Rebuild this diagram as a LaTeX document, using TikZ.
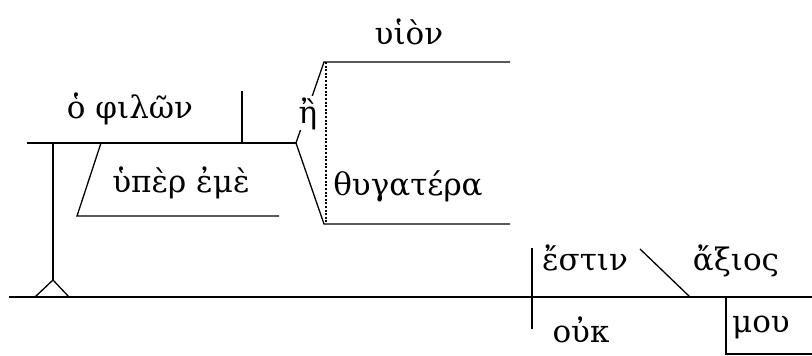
\documentclass[tikz,border=0pt]{standalone}
\usepackage{fontspec}
\setmainfont{DejaVu Serif}
\begin{document}
\begin{tikzpicture}[x=1pt,y=-1pt,
  ln/.style={line width=1.3pt},
  wd/.style={font=\fontsize{31}{35}\selectfont, inner sep=0pt, anchor=base}]
\useasboundingbox (0,0) rectangle (812,356);
% coordinates
\coordinate (b0) at (9,297);
\coordinate (b1) at (812,297);
\coordinate (tl) at (35,297);
\coordinate (tr) at (69,297);
\coordinate (ta) at (53,280);
\coordinate (st) at (53,143);
\coordinate (s0) at (27,143);
\coordinate (fk) at (296,143);
\coordinate (dv0) at (242,91);
\coordinate (dv1) at (242,143);
\coordinate (p0) at (101,143);
\coordinate (p1) at (77,216);
\coordinate (p2) at (279,216);
\coordinate (u0) at (324,62);
\coordinate (u1) at (510,62);
\coordinate (l0) at (324,224);
\coordinate (l1) at (510,224);
\coordinate (dt0) at (326,62);
\coordinate (dt1) at (326,224);
\coordinate (v0) at (532,248);
\coordinate (v1) at (532,329);
\coordinate (c0) at (640,249);
\coordinate (c1) at (690,297);
\coordinate (m0) at (726,297);
\coordinate (m1) at (726,354);
\coordinate (m2) at (812,354);
% lines
\draw[ln] (b0) -- (b1);
\draw[ln] (tl) -- (ta) -- (tr);
\draw[ln] (ta) -- (st);
\draw[ln] (s0) -- (fk);
\draw[ln] (dv0) -- (dv1);
\draw[ln] (p0) -- (p1) -- (p2);
\draw[ln] (fk) -- (u0) -- (u1);
\draw[ln] (fk) -- (l0) -- (l1);
\draw[line width=2.2pt, dash pattern=on 2pt off 1.6pt] (dt0) -- (dt1);
\draw[ln] (v0) -- (v1);
\draw[ln] (c0) -- (c1);
\draw[ln] (m0) -- (m1) -- (m2);
% words
\node[wd] (subj) at (130,118) {ὁ φιλῶν};
\node[wd] (prep) at (181,192) {ὑπὲρ ἐμὲ};
\node[wd, fill=white, inner sep=1pt] (conj) at (308,123) {ἢ};
\node[wd] (uion) at (409,45) {υἱὸν};
\node[wd] (thug) at (408,195) {θυγατέρα};
\node[wd] (verb) at (585,270) {ἔστιν};
\node[wd] (axios) at (736,270) {ἄξιος};
\node[wd] (ouk) at (581,342) {οὐκ};
\node[wd] (mou) at (761,332) {μου};
\end{tikzpicture}
\end{document}
